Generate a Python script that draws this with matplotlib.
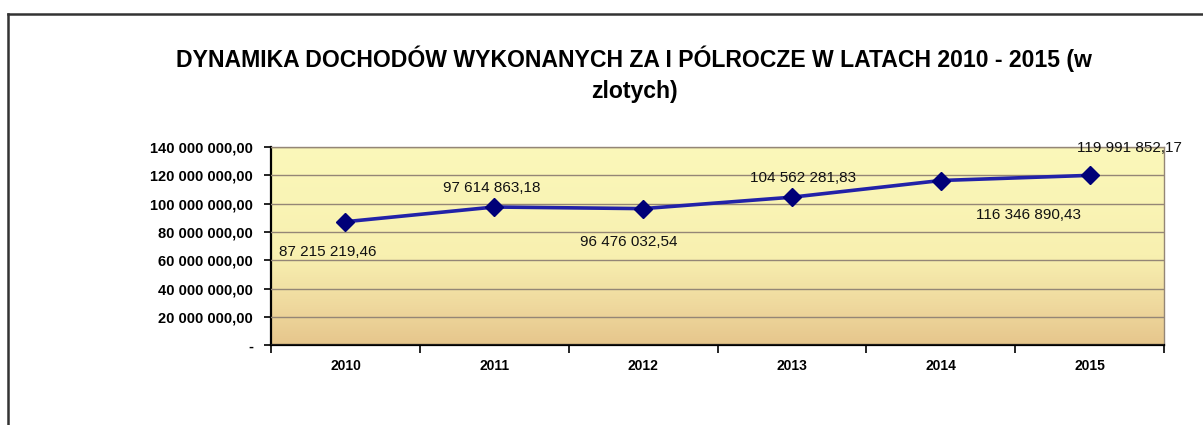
import numpy as np
import matplotlib.pyplot as plt
from matplotlib.colors import LinearSegmentedColormap
from matplotlib.lines import Line2D
from matplotlib.ticker import FuncFormatter

years = ['2010', '2011', '2012', '2013', '2014', '2015']
values = [87215219.46, 97614863.18, 96476032.54, 104562281.83, 116346890.43, 119991852.17]
# label offsets in points (dx, dy) relative to each marker
label_offsets = [(-13, -22), (-2, 14), (-10, -24), (8, 14), (63, -25), (29, 20)]

title = 'DYNAMIKA DOCHODÓW WYKONANYCH ZA I PÓLROCZE W LATACH 2010 - 2015 (w\nzlotych)'

plt.rcParams['font.family'] = ['Liberation Sans', 'DejaVu Sans']


def pl_format(v, pos=None):
    if v == 0:
        return '-'
    s = f'{v:,.2f}'
    return s.replace(',', ' ').replace('.', ',')


fig = plt.figure(figsize=(12.03, 4.25), dpi=100)
ax = fig.add_axes([0.2253, 0.188, 0.7423, 0.466])

x = np.arange(len(years))
ax.set_xlim(-0.5, len(years) - 0.5)
ax.set_ylim(0, 140e6)

# yellow to tan gradient background
cmap = LinearSegmentedColormap.from_list(
    'bg', [(0.0, '#e6c68c'), (0.2, '#efd99e'), (0.45, '#f8f0b0'), (1.0, '#fbf8ba')])
grad = np.linspace(0, 1, 256).reshape(-1, 1)
ax.imshow(grad, extent=(-0.5, len(years) - 0.5, 0, 140e6), origin='lower',
          aspect='auto', cmap=cmap, zorder=0)

ax.set_yticks(np.arange(0, 140e6 + 1, 20e6))
ax.yaxis.set_major_formatter(FuncFormatter(pl_format))
ax.grid(axis='y', color='#948676', lw=1, zorder=1)
ax.set_axisbelow(False)

ax.set_xticks(x)
ax.set_xticklabels(years)
ax.set_xticks(np.arange(-0.5, len(years), 1), minor=True)
ax.tick_params(axis='x', which='major', length=0, pad=10, labelsize=10)
ax.tick_params(axis='x', which='minor', length=6, width=1.2, direction='out')
ax.tick_params(axis='y', length=5, width=1.2, labelsize=10.5, pad=8)
for lab in ax.get_xticklabels() + ax.get_yticklabels():
    lab.set_fontweight('bold')

for side in ['top', 'right']:
    ax.spines[side].set_color('#948676')
    ax.spines[side].set_linewidth(1)
for side in ['left', 'bottom']:
    ax.spines[side].set_color('black')
    ax.spines[side].set_linewidth(1.6)

ax.plot(x, values, color='#2222a8', lw=2.6, marker='D', markersize=9,
        markerfacecolor='#000078', markeredgecolor='#000078', zorder=3, clip_on=False)

for xi, v, (dx, dy) in zip(x, values, label_offsets):
    ax.annotate(pl_format(v), (xi, v), xytext=(dx, dy), textcoords='offset points',
                ha='center', va='center', fontsize=11, color='#111111', zorder=4)

fig.text(0.527, 0.826, title, ha='center', va='center', fontsize=16.6,
         fontweight='bold', linespacing=1.45)

# outer frame (top and left visible)
fig.add_artist(Line2D([8 / 1203, 1.0], [1 - 14 / 425, 1 - 14 / 425],
                      transform=fig.transFigure, color='#333333', lw=1.8))
fig.add_artist(Line2D([8 / 1203, 8 / 1203], [0.0, 1 - 14 / 425],
                      transform=fig.transFigure, color='#333333', lw=1.8))

fig.savefig('out.png', dpi=100)
